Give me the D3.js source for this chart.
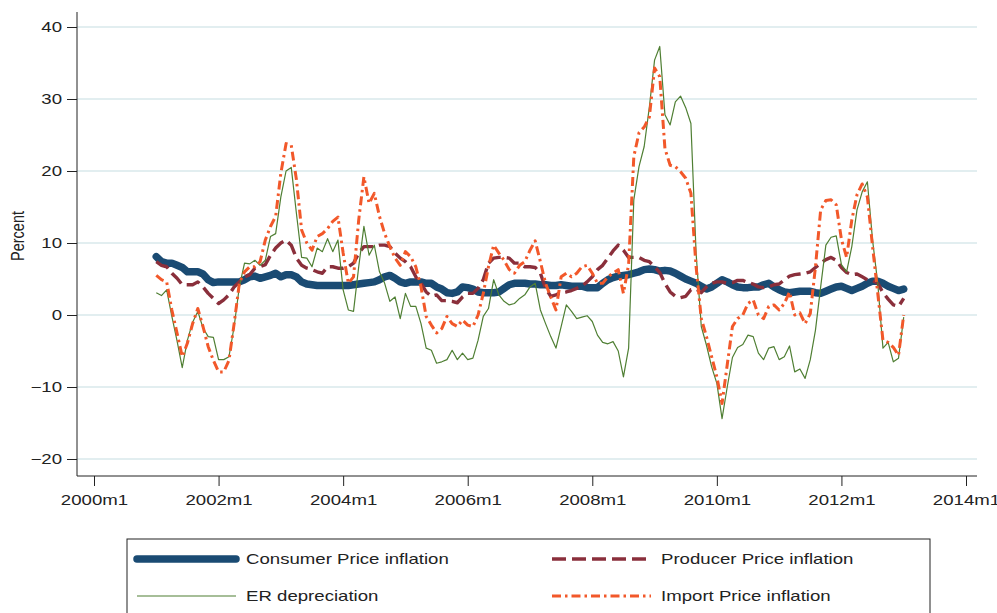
<!DOCTYPE html>
<meta charset="utf-8">
<style>
body { margin: 0; background: #fff; }
svg { display: block; }
.axis text, .legend text, .ylabel {
  font-family: 'Liberation Sans', Arial, sans-serif;
  font-size: 14px;
  fill: #222;
}
.ylabel { font-size: 14.5px; }
.axis path.domain { display: none; }
.axis line { stroke: #222; }
.grid line { stroke: #e2eef0; stroke-width: 2; }
.frame { stroke: #222; stroke-width: 1; }
</style>
<body>
<script src="https://d3js.org/d3.v7.min.js"></script>
<script>

// monthly data, 2001m1 .. 2013m1
var firstYear = 2001;

var cpi = [8.1, 7.4, 7.2, 7.2, 6.9, 6.6, 6.0, 6.0, 6.0, 5.7, 4.9, 4.5,
  4.6, 4.6, 4.6, 4.6, 4.6, 4.9, 5.3, 5.4, 5.1, 5.3, 5.5, 5.8,
  5.3, 5.6, 5.6, 5.3, 4.6, 4.3, 4.2, 4.1, 4.1, 4.1, 4.1, 4.1,
  4.1, 4.1, 4.2, 4.3, 4.4, 4.5, 4.6, 4.9, 5.3, 5.5, 5.1, 4.6,
  4.4, 4.6, 4.6, 4.6, 4.4, 4.4, 3.9, 3.6, 3.1, 3.0, 3.2, 3.9,
  3.8, 3.6, 3.2, 3.1, 3.1, 3.1, 3.2, 3.7, 4.2, 4.4, 4.4, 4.4,
  4.3, 4.3, 4.2, 4.2, 4.1, 4.1, 4.2, 4.1, 4.0, 4.0, 4.0, 3.8,
  3.8, 3.8, 4.4, 4.9, 5.2, 5.4, 5.5, 5.6, 5.8, 6.0, 6.3, 6.4,
  6.3, 6.1, 6.2, 6.1, 5.8, 5.4, 5.0, 4.7, 4.4, 4.0, 3.6, 3.9,
  4.4, 4.9, 4.6, 4.2, 3.9, 3.8, 3.8, 3.9, 3.9, 4.2, 4.4, 3.9,
  3.5, 3.2, 3.1, 3.2, 3.3, 3.3, 3.3, 3.1, 3.0, 3.3, 3.6, 3.9,
  4.0, 3.7, 3.4, 3.7, 4.0, 4.4, 4.7, 4.7, 4.4, 4.0, 3.7, 3.4,
  3.6];

var ppi = [7.4, 6.9, 6.7, 5.8, 5.1, 4.2, 4.2, 4.2, 4.6, 3.9, 3.0, 2.3,
  1.6, 2.1, 2.8, 3.9, 4.6, 5.3, 5.6, 6.5, 6.7, 7.0, 8.3, 9.3,
  10.0, 10.4, 9.7, 7.9, 6.9, 6.5, 6.3, 6.0, 5.8, 6.7, 6.7, 6.5,
  6.5, 6.7, 7.2, 8.6, 9.5, 9.5, 9.5, 9.7, 9.7, 9.5, 8.6, 7.9,
  7.4, 6.7, 5.3, 4.4, 3.2, 2.6, 2.8, 2.0, 2.0, 1.9, 1.7, 2.5,
  3.0, 3.0, 3.7, 4.9, 7.2, 7.9, 8.0, 8.0, 7.9, 7.2, 7.2, 6.7,
  6.7, 6.6, 5.8, 3.7, 2.6, 2.8, 3.1, 3.2, 3.4, 3.7, 4.0, 4.6,
  5.3, 6.3, 6.9, 7.9, 8.9, 9.7, 9.0, 8.0, 8.0, 8.0, 7.6, 7.4,
  6.7, 5.9, 4.4, 3.2, 2.6, 2.4, 2.6, 3.5, 3.6, 3.1, 3.9, 4.4,
  4.6, 4.6, 4.4, 4.5, 4.8, 4.8, 4.5, 4.3, 3.9, 3.8, 3.9, 4.2,
  4.3, 4.9, 5.4, 5.6, 5.7, 5.8, 6.0, 6.6, 7.2, 7.7, 8.0, 7.6,
  6.6, 5.9, 5.6, 5.7, 5.3, 4.9, 4.8, 4.4, 3.1, 2.2, 1.4, 1.2,
  2.3];

var er = [3.1, 2.7, 3.5, -0.2, -3.6, -7.3, -3.5, -1.0, 0.5, -1.8, -3.0, -3.1,
  -6.2, -6.2, -5.8, -1.6, 3.9, 7.2, 7.1, 7.6, 6.9, 7.6, 10.9, 11.3,
  16.4, 20.0, 20.5, 14.1, 8.0, 7.9, 6.7, 9.3, 8.8, 10.6, 8.8, 10.4,
  3.5, 0.7, 0.5, 6.7, 12.3, 8.3, 9.7, 6.0, 4.4, 1.9, 2.5, -0.5,
  3.0, 1.2, 1.2, -1.2, -4.6, -4.9, -6.7, -6.5, -6.2, -4.9, -6.2, -5.3,
  -6.2, -6.0, -3.5, -0.2, 0.9, 4.9, 2.8, 1.9, 1.4, 1.6, 2.3, 2.8,
  3.9, 4.4, 0.7, -1.2, -3.0, -4.6, -1.6, 1.4, 0.5, -0.5, -0.3, -0.1,
  -0.9, -2.8, -3.8, -4.0, -3.7, -5.0, -8.6, -4.6, 16.0, 20.6, 23.4, 28.9,
  35.4, 37.3, 27.8, 26.4, 29.6, 30.4, 28.8, 26.6, 8.6, -1.6, -4.2, -7.2,
  -9.5, -14.4, -10.0, -5.9, -4.5, -4.1, -2.8, -3.0, -5.3, -6.2, -4.6, -4.4,
  -6.2, -5.8, -4.3, -7.9, -7.5, -8.8, -6.2, -2.1, 3.9, 9.7, 10.8, 11.0,
  7.0, 6.0, 9.5, 14.6, 17.1, 18.5, 10.4, 4.4, -4.6, -3.8, -6.5, -6.0,
  -0.3];

var imp = [5.5, 4.9, 4.6, 0.7, -2.5, -5.8, -3.9, -1.2, 0.9, -1.6, -4.4, -6.3,
  -7.9, -7.9, -6.3, -1.2, 4.4, 6.0, 6.7, 6.7, 7.4, 10.4, 12.3, 13.7,
  19.7, 23.8, 23.6, 18.8, 11.8, 10.0, 9.0, 10.9, 11.3, 12.0, 13.0, 13.6,
  8.6, 4.4, 5.3, 13.2, 19.2, 15.5, 16.9, 13.7, 11.3, 9.5, 7.9, 6.9,
  8.8, 8.1, 6.7, 3.9, -0.2, -1.4, -2.5, -1.9, -0.2, -1.2, -1.6, -0.7,
  -1.4, -1.6, 0.0, 3.0, 6.7, 9.7, 8.6, 7.6, 6.3, 5.8, 6.9, 7.4,
  9.0, 10.3, 7.4, 4.4, 2.5, 0.7, 5.3, 5.8, 5.3, 5.8, 6.7, 6.9,
  5.8, 4.4, 4.4, 5.3, 5.8, 6.3, 3.0, 7.0, 22.0, 25.3, 26.1, 27.5,
  34.3, 33.1, 23.1, 20.8, 20.6, 19.9, 19.0, 16.9, 6.7, -0.5, -3.0, -5.8,
  -8.6, -12.3, -6.9, -1.6, -0.5, 0.0, 1.6, 2.1, 0.0, -0.5, 1.2, 1.4,
  0.7, 1.6, 3.2, 0.0, 0.3, -1.2, 0.2, 6.7, 14.6, 15.9, 16.0, 15.3,
  10.5, 8.0, 13.2, 16.7, 18.2, 16.4, 9.5, 3.0, -3.5, -3.8, -4.5, -5.6,
  0.0];

var yTicks = [-20, -10, 0, 10, 20, 30, 40];
var xTicks = [2000, 2002, 2004, 2006, 2008, 2010, 2012, 2014];

var seriesNames = ["Consumer Price inflation", "Producer Price inflation",
                   "ER depreciation", "Import Price inflation"];

var width = 997, height = 613;
var stretch = 1.33;   // the reference text is a bit wide

var svg = d3.select("body").append("svg")
    .attr("width", width)
    .attr("height", height);

var plot = {left: 77, right: 977, top: 12, bottom: 476};

var x = d3.scaleLinear().domain([2000, 2014]).range([94, 966]);
var y = d3.scaleLinear().domain([-20, 40]).range([459, 27]);

// grid
svg.append("g").attr("class", "grid")
  .selectAll("line").data(yTicks)
  .enter().append("line")
    .attr("x1", plot.left).attr("x2", plot.right)
    .attr("y1", d => y(d)).attr("y2", d => y(d));

// axes
var yAxis = svg.append("g").attr("class", "axis")
    .attr("transform", "translate(" + plot.left + ",0)")
    .call(d3.axisLeft(y).tickValues(yTicks).tickSize(10).tickPadding(4));
yAxis.selectAll("text")
    .attr("x", -15 / stretch)
    .attr("transform", "scale(" + stretch + ",1)");

var xAxis = svg.append("g").attr("class", "axis")
    .attr("transform", "translate(0," + plot.bottom + ")")
    .call(d3.axisBottom(x).tickValues(xTicks).tickSize(10).tickPadding(9)
      .tickFormat(d => d + "m1"));
xAxis.selectAll("text")
    .attr("transform", "scale(" + stretch + ",1)");

svg.append("line").attr("class", "frame")
    .attr("x1", plot.left).attr("x2", plot.left)
    .attr("y1", plot.top).attr("y2", plot.bottom);
svg.append("line").attr("class", "frame")
    .attr("x1", plot.left).attr("x2", plot.right)
    .attr("y1", plot.bottom).attr("y2", plot.bottom);

svg.append("text").attr("class", "ylabel")
    .attr("text-anchor", "middle")
    .attr("transform", "translate(24,236) scale(" + stretch + ",1) rotate(-90)")
    .text("Percent");

// lines
var styles = [
  {data: cpi, color: "#1a4b73", w: 7.5, dash: null, cap: "round"},
  {data: ppi, color: "#8a2f3b", w: 3.4, dash: "14,6", cap: "butt"},
  {data: er,  color: "#4f7f33", w: 1.2, dash: null, cap: "butt"},
  {data: imp, color: "#f2582a", w: 3, dash: "9,4,2.5,4", cap: "butt"}
];

var line = d3.line()
    .x((d, i) => x(firstYear + i / 12))
    .y(d => y(d));

svg.append("g").selectAll("path").data(styles)
  .enter().append("path")
    .attr("fill", "none")
    .attr("stroke", d => d.color)
    .attr("stroke-width", d => d.w)
    .attr("stroke-dasharray", d => d.dash)
    .attr("stroke-linecap", d => d.cap)
    .attr("stroke-linejoin", "round")
    .attr("d", d => line(d.data));

// legend
var legend = svg.append("g").attr("class", "legend");
legend.append("rect")
    .attr("x", 127).attr("y", 539)
    .attr("width", 803).attr("height", 100)
    .attr("fill", "#fff").attr("stroke", "#222");

var legendPos = [[137, 559], [552, 559], [137, 596], [552, 596]];

seriesNames.forEach(function(name, i) {
  var p = legendPos[i], s = styles[i === 1 ? 1 : i === 2 ? 2 : i];
  legend.append("line")
    .attr("x1", p[0]).attr("x2", p[0] + 99)
    .attr("y1", p[1]).attr("y2", p[1])
    .attr("stroke", s.color)
    .attr("stroke-width", s.w)
    .attr("stroke-dasharray", s.dash)
    .attr("stroke-linecap", s.cap);
  legend.append("text")
    .attr("transform", "translate(" + (p[0] + 109) + "," + (p[1] + 5) + ") scale(" + stretch + ",1)")
    .text(name);
});

</script>
</body>
